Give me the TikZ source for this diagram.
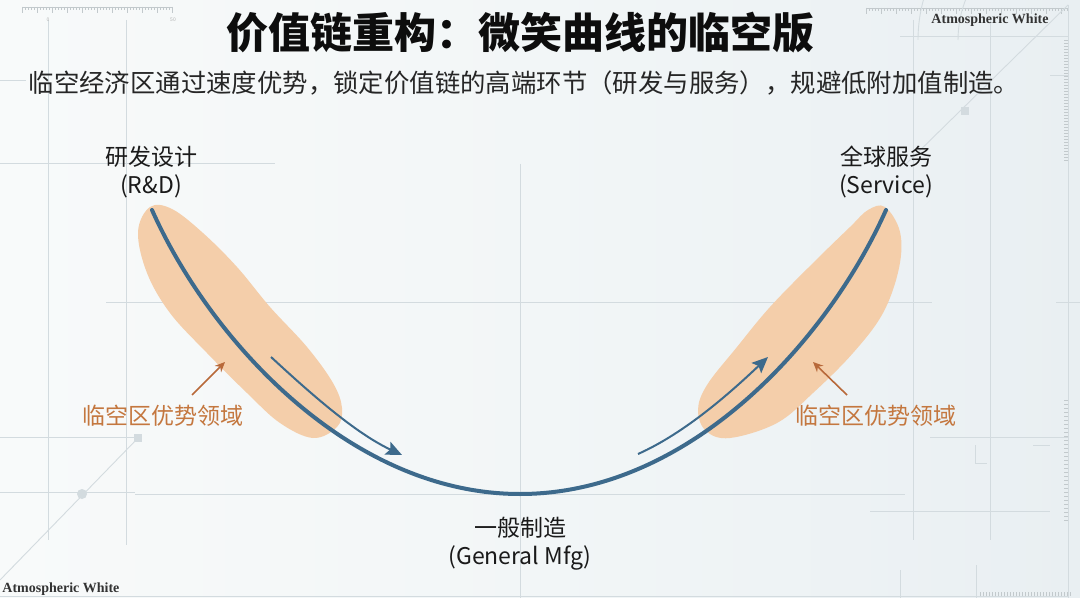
\documentclass[tikz,border=0pt]{standalone}
\usepackage{fontspec}
\setmainfont{Noto Sans CJK SC}
\newfontfamily\wmfont{Liberation Serif}
\usetikzlibrary{arrows.meta}
\definecolor{bgA}{HTML}{F8FAFA}
\definecolor{bgM}{HTML}{F2F6F7}
\definecolor{bgB}{HTML}{E9EFF2}
\definecolor{gridc}{HTML}{D3DBDF}
\definecolor{curveblue}{HTML}{3D6A8C}
\definecolor{blobc}{HTML}{F4CEAA}
\definecolor{orangetxt}{HTML}{C4773F}
\definecolor{orangearr}{HTML}{B8693A}
\definecolor{inkc}{HTML}{1A1A1A}
\tikzset{
  gridline/.style={draw=gridc, line width=0.45pt},
  tick/.style={draw=gridc!80!gray, line width=0.35pt},
  curveline/.style={draw=curveblue, line width=2pt, line cap=round},
  flowline/.style={draw=curveblue, line width=1pt, -{Stealth[length=8pt,width=7pt,inset=1.5pt]}},
  oarrow/.style={draw=orangearr, line width=0.8pt, -{Stealth[length=5pt,width=4.5pt]}},
  blob/.style={fill=blobc},
  lbl/.style={text=inkc, font=\fontsize{11.5}{14}\selectfont, align=center, inner sep=0pt},
  olbl/.style={text=orangetxt, font=\fontsize{11.5}{14}\selectfont, inner sep=0pt},
  wm/.style={text=black!80, font=\wmfont\bfseries\fontsize{7}{8}\selectfont, inner sep=0pt},
  rulerlbl/.style={text=gray!60, font=\fontsize{2.5}{3}\selectfont, inner sep=0pt}
}
\begin{document}
\begin{tikzpicture}[x=0.5pt,y=-0.5pt]
\useasboundingbox (0,0) rectangle (1080,598);
\shade[left color=bgA, right color=bgB, middle color=bgM] (0,0) rectangle (1080,598);

% ---------- background grid ----------
\draw[gridline] (48,20) -- (48,540);
\draw[gridline] (126,20) -- (126,545);
\draw[gridline] (0,163) -- (275,163);
\draw[gridline] (0,80) -- (26,80);
\draw[gridline] (106,302) -- (932,302);
\draw[gridline] (1056,302) -- (1080,302);
\draw[gridline] (520,164) -- (520,598);
\draw[gridline] (0,492) -- (135,492);
\draw[gridline] (135,494) -- (905,494);
\draw[gridline] (0,437) -- (135,437);
\draw[gridline] (930,437) -- (1068,437);
\draw[gridline] (870,511) -- (1050,511);
\draw[gridline] (913,20) -- (913,540);
\draw[gridline] (990,20) -- (990,540);
\draw[gridline] (1068,5) -- (1068,598);
\draw[gridline] (975,445) -- (975,463) -- (987,463);
\draw[gridline] (1033,445) -- (1050,445);
\draw[gridline] (900,36) -- (1068,36);
\draw[gridline] (1050,75) -- (1068,75);
\draw[gridline] (0,596) -- (1068,596);
\draw[gridline] (900,570) -- (900,598);
\draw[gridline] (976,565) -- (976,598);
% top-left ruler
\draw[tick] (22,7) -- (173,7);
\foreach \i in {0,...,50} {\draw[tick] ({22+3*\i},7) -- ({22+3*\i},10);}
\foreach \i in {0,5,...,50} {\draw[tick] ({22+3*\i},7) -- ({22+3*\i},13);}
\node[rulerlbl] (r0) at (48,20) {0};
\node[rulerlbl] (r50) at (173,20) {50};
% top-right ruler
\draw[tick] (866,8) -- (1068,8);
\foreach \i in {0,...,67} {\draw[tick] ({866+3*\i},8) -- ({866+3*\i},11);}
\foreach \i in {0,5,...,65} {\draw[tick] ({866+3*\i},8) -- ({866+3*\i},14);}
\foreach \i in {0,...,40} {\draw[tick] (1068,{40+3*\i}) -- (1064,{40+3*\i});}
% bottom-right ruler
\foreach \i in {0,...,30} {\draw[tick] ({980+3*\i},596) -- ({980+3*\i},592);}
\foreach \i in {0,...,30} {\draw[tick] (1068,{400+4*\i}) -- (1064,{400+4*\i});}
% top-right arcs and diagonal
\draw[gridline] (1068,5) -- (905,165);
\draw[gridline] (1068,40) ++(180:110) arc[start angle=180, end angle=270, radius=110];
\draw[gridline] (1068,40) ++(180:150) arc[start angle=180, end angle=262, radius=150];
\draw[gridline] (1080,-40) ++(200:200) arc[start angle=200, end angle=268, radius=200];
\fill[gridc] (961,107) rectangle (969,115);
% bottom-left arcs and diagonal
\draw[gridline] (0,580) -- (138,438);
\draw[gridline] (-30,610) ++(20:140) arc[start angle=20, end angle=85, radius=140];
\draw[gridline] (-30,610) ++(10:190) arc[start angle=10, end angle=82, radius=190];
\draw[gridline] (-30,610) ++(5:230) arc[start angle=5, end angle=70, radius=230];
\draw[gridline] (-60,640) ++(0:245) arc[start angle=0, end angle=60, radius=245];
\fill[gridc] (82,494) circle[radius=5];
\fill[gridc] (134,434) rectangle (142,442);

% ---------- titles ----------
\node[text=black!95, font=\bfseries\fontsize{21}{24}\selectfont, inner sep=0pt] (title) at (520,33) {价值链重构：微笑曲线的临空版};
\node[text=black!85, font=\fontsize{12.7}{15}\selectfont, inner sep=0pt] (sub) at (524,83) {临空经济区通过速度优势，锁定价值链的高端环节（研发与服务），规避低附加值制造。};
\node[wm] (wm1) at (990,20) {Atmospheric White};
\node[wm, anchor=west] (wm2) at (2,589) {Atmospheric White};

% ---------- blobs ----------
\fill[blob] plot[smooth cycle, tension=0.6] coordinates {
 (150,207) (138,232) (147,273) (170,313) (207,353) (247,393) (280,423)
 (313,438) (337,427) (342,408) (333,383) (307,347) (270,307) (237,267)
 (203,233) (172,209)};
\fill[blob] plot[smooth cycle, tension=0.6] coordinates {
 (885,207) (900,232) (899,268) (883,313) (853,353) (813,393) (777,423)
 (730,438) (706,431) (698,410) (707,385) (737,347) (770,307) (813,263)
 (850,227) (868,210)};

% ---------- main curve ----------
\coordinate (L) at (152,210);
\coordinate (B) at (520,494);
\coordinate (R) at (886,210);
\draw[curveline] (L) .. controls (210,340) and (350,494) .. (B)
                     .. controls (690,494) and (828,340) .. (R);

% ---------- flow arrows ----------
\coordinate (fl1) at (271,357);
\coordinate (fl2) at (402,455);
\draw[flowline] (fl1) .. controls (310,393) and (355,433) .. (fl2);
\coordinate (fr1) at (638,454);
\coordinate (fr2) at (768,357);
\draw[flowline] (fr1) .. controls (685,433) and (730,393) .. (fr2);

% ---------- labels ----------
\node[lbl] (rd) at (151,172) {研发设计\\(R\&D)};
\node[lbl] (sv) at (886,172) {全球服务\\(Service)};
\node[lbl] (mfg) at (520,544) {一般制造\\(General Mfg)};
\node[olbl] (advL) at (163,416) {临空区优势领域};
\node[olbl] (advR) at (876,416) {临空区优势领域};

% ---------- orange pointers ----------
\coordinate (oL1) at (192,395);
\coordinate (oL2) at (225,362);
\draw[oarrow] (oL1) -- (oL2);
\coordinate (oR1) at (847,395);
\coordinate (oR2) at (813,362);
\draw[oarrow] (oR1) -- (oR2);
\end{tikzpicture}
\end{document}
